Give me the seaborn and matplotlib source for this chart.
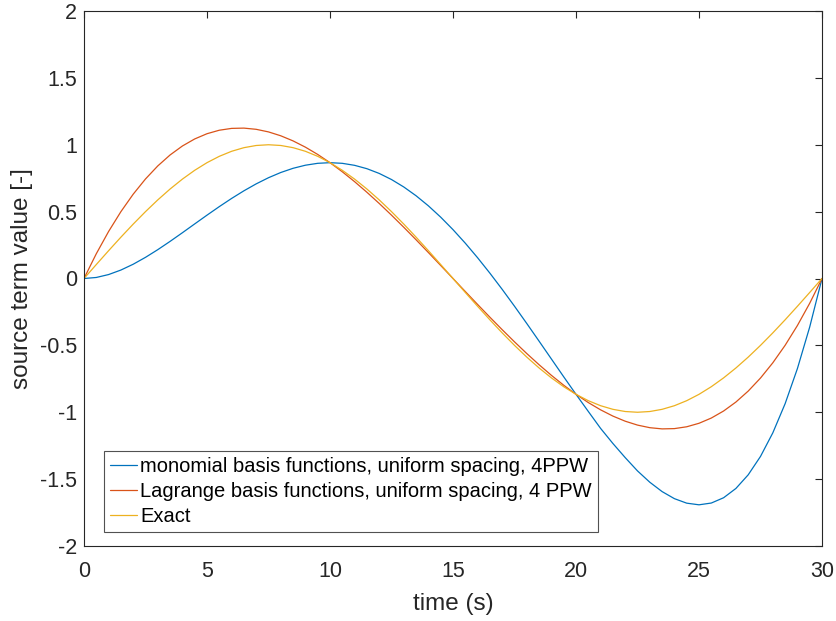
import matplotlib
matplotlib.use("Agg")
import matplotlib.pyplot as plt
import seaborn as sns
import pandas as pd

time_s = [0, 0.5, 1, 1.5, 2, 2.5, 3, 3.5, 4, 4.5, 5, 5.5, 6, 6.5, 7, 7.5, 8, 8.5, 9, 9.5,
          10, 10.5, 11, 11.5, 12, 12.5, 13, 13.5, 14, 14.5, 15, 15.5, 16, 16.5, 17, 17.5,
          18, 18.5, 19, 19.5, 20, 20.5, 21, 21.5, 22, 22.5, 23, 23.5, 24, 24.5, 25, 25.5,
          26, 26.5, 27, 27.5, 28, 28.5, 29, 29.5, 30]
monomial = [0.0, 0.0077, 0.0295, 0.0632, 0.1067, 0.1582, 0.2157, 0.2776, 0.3422, 0.4081,
            0.4736, 0.5375, 0.5986, 0.6556, 0.7076, 0.7535, 0.7926, 0.8240, 0.8470, 0.8612,
            0.8660, 0.8611, 0.8461, 0.8210, 0.7856, 0.7400, 0.6842, 0.6185, 0.5432, 0.4586,
            0.3653, 0.2640, 0.1552, 0.0398, -0.0813, -0.2072, -0.3367, -0.4687, -0.6018, -0.7348,
            -0.8660, -0.9940, -1.1207, -1.2335, -1.3391, -1.4386, -1.5232, -1.5932, -1.6460, -1.6797,
            -1.6920, -1.6788, -1.6392, -1.5698, -1.4678, -1.3303, -1.1542, -0.9364, -0.6737, -0.3627, 0.0]
lagrange = [0.0, 0.1852, 0.3516, 0.4998, 0.6304, 0.7442, 0.8418, 0.9237, 0.9907, 1.0434,
            1.0825, 1.1086, 1.1223, 1.1244, 1.1154, 1.0960, 1.0669, 1.0287, 0.9820, 0.9276,
            0.8660, 0.7979, 0.7240, 0.6448, 0.5612, 0.4736, 0.3828, 0.2894, 0.1940, 0.0973,
            0.0, -0.0973, -0.1940, -0.2894, -0.3828, -0.4736, -0.5612, -0.6448, -0.7240, -0.7979,
            -0.8660, -0.9276, -0.9820, -1.0287, -1.0669, -1.0960, -1.1154, -1.1244, -1.1223, -1.1086,
            -1.0825, -1.0434, -0.9907, -0.9237, -0.8418, -0.7442, -0.6304, -0.4998, -0.3516, -0.1852, 0.0]
exact = [0.0, 0.1045, 0.2079, 0.3090, 0.4067, 0.5000, 0.5878, 0.6691, 0.7431, 0.8090,
         0.8660, 0.9135, 0.9511, 0.9781, 0.9945, 1.0000, 0.9945, 0.9781, 0.9511, 0.9135,
         0.8660, 0.8090, 0.7431, 0.6691, 0.5878, 0.5000, 0.4067, 0.3090, 0.2079, 0.1045,
         0.0, -0.1045, -0.2079, -0.3090, -0.4067, -0.5000, -0.5878, -0.6691, -0.7431, -0.8090,
         -0.8660, -0.9135, -0.9511, -0.9781, -0.9945, -1.0000, -0.9945, -0.9781, -0.9511, -0.9135,
         -0.8660, -0.8090, -0.7431, -0.6691, -0.5878, -0.5000, -0.4067, -0.3090, -0.2079, -0.1045, 0.0]
labels = ["monomial basis functions, uniform spacing, 4PPW",
          "Lagrange basis functions, uniform spacing, 4 PPW",
          "Exact"]
colors = ["#0072BD", "#D95319", "#EDB120"]
x_ticks = [0, 5, 10, 15, 20, 25, 30]
y_ticks = [-2, -1.5, -1, -0.5, 0, 0.5, 1, 1.5, 2]
y_ticklabels = ["-2", "-1.5", "-1", "-0.5", "0", "0.5", "1", "1.5", "2"]

sns.set_style("white")
plt.rcParams['font.family'] = ['Liberation Sans', 'DejaVu Sans']

df = pd.concat([
    pd.DataFrame({"t": time_s, "v": monomial, "series": labels[0]}),
    pd.DataFrame({"t": time_s, "v": lagrange, "series": labels[1]}),
    pd.DataFrame({"t": time_s, "v": exact, "series": labels[2]}),
])

fig = plt.figure(figsize=(8.37, 6.21), dpi=100)
ax = fig.add_axes([84/837, 1 - 546/621, (822-84)/837, (546-11)/621])
sns.lineplot(data=df, x="t", y="v", hue="series", palette=colors, ax=ax,
             linewidth=0.9, legend=True)

ax.set_xlim(0, 30)
ax.set_ylim(-2, 2)
ax.set_xticks(x_ticks)
ax.set_xticklabels([str(v) for v in x_ticks])
ax.set_yticks(y_ticks)
ax.set_yticklabels(y_ticklabels)
dark = "#262626"
ax.tick_params(direction="in", length=5, width=0.8, colors=dark, labelsize=15.5,
               top=True, right=True)
ax.tick_params(axis="x", pad=11)
ax.tick_params(axis="y", pad=5)
for sp in ax.spines.values():
    sp.set_visible(True)
    sp.set_color(dark)
    sp.set_linewidth(0.8)
ax.set_xlabel("time (s)", fontsize=17.5, color=dark, labelpad=8)
ax.set_ylabel("source term value [-]", fontsize=17.5, color=dark, labelpad=5)

leg = ax.legend(loc="lower left", bbox_to_anchor=(20/738, 14/535), fontsize=14.5,
                frameon=True, fancybox=False, handlelength=1.35, handletextpad=0.15,
                borderpad=0.3, labelspacing=0.3, borderaxespad=0)
leg.get_frame().set_edgecolor(dark)
leg.get_frame().set_linewidth(0.8)
for t in leg.get_texts():
    t.set_color("black")

fig.savefig("out.png", dpi=100)
